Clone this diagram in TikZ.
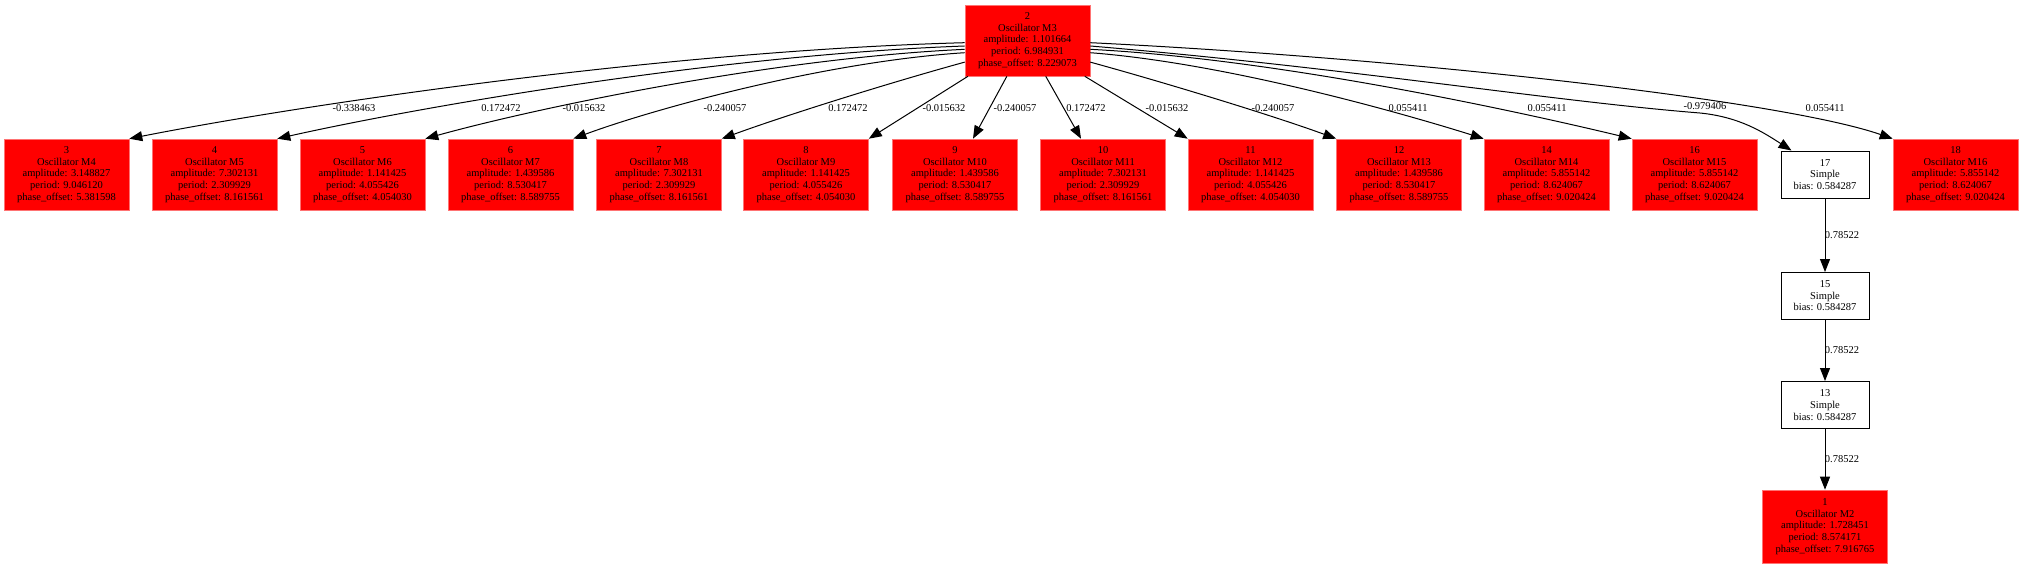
\documentclass[tikz,border=0pt]{standalone}
\usepackage{fontspec}
\setmainfont{Liberation Serif}
\usetikzlibrary{arrows.meta}
\begin{document}
\begin{tikzpicture}[x=1pt,y=-1pt,
  txt/.style={font=\fontsize{10.5}{11.6}\selectfont},
  osc/.style={txt, draw=red!55!white, fill=red, line width=0.6pt, minimum width=125pt, minimum height=71pt, align=center, inner sep=0pt},
  simple/.style={txt, draw=black, fill=white, line width=1pt, minimum width=88pt, minimum height=47pt, align=center, inner sep=0pt},
  conn/.style={draw=black, line width=1pt, -{Triangle[length=13pt,width=10pt]}},
  elabel/.style={txt, inner sep=0pt}
]
\useasboundingbox (0,0) rectangle (2024,568);

% nodes
\node[osc] (n2) at (1027.5,40.5) {2\\Oscillator M3\\amplitude: 1.101664\\period: 6.984931\\phase\_offset: 8.229073};
\node[osc] (n3) at (66.5,174.5) {3\\Oscillator M4\\amplitude: 3.148827\\period: 9.046120\\phase\_offset: 5.381598};
\node[osc] (n4) at (214.5,174.5) {4\\Oscillator M5\\amplitude: 7.302131\\period: 2.309929\\phase\_offset: 8.161561};
\node[osc] (n5) at (362.5,174.5) {5\\Oscillator M6\\amplitude: 1.141425\\period: 4.055426\\phase\_offset: 4.054030};
\node[osc] (n6) at (510.5,174.5) {6\\Oscillator M7\\amplitude: 1.439586\\period: 8.530417\\phase\_offset: 8.589755};
\node[osc] (n7) at (659,174.5) {7\\Oscillator M8\\amplitude: 7.302131\\period: 2.309929\\phase\_offset: 8.161561};
\node[osc] (n8) at (806,174.5) {8\\Oscillator M9\\amplitude: 1.141425\\period: 4.055426\\phase\_offset: 4.054030};
\node[osc] (n9) at (955,174.5) {9\\Oscillator M10\\amplitude: 1.439586\\period: 8.530417\\phase\_offset: 8.589755};
\node[osc] (n10) at (1103,174.5) {10\\Oscillator M11\\amplitude: 7.302131\\period: 2.309929\\phase\_offset: 8.161561};
\node[osc] (n11) at (1250.5,174.5) {11\\Oscillator M12\\amplitude: 1.141425\\period: 4.055426\\phase\_offset: 4.054030};
\node[osc] (n12) at (1399,174.5) {12\\Oscillator M13\\amplitude: 1.439586\\period: 8.530417\\phase\_offset: 8.589755};
\node[osc] (n14) at (1546.5,174.5) {14\\Oscillator M14\\amplitude: 5.855142\\period: 8.624067\\phase\_offset: 9.020424};
\node[osc] (n16) at (1694.5,174.5) {16\\Oscillator M15\\amplitude: 5.855142\\period: 8.624067\\phase\_offset: 9.020424};
\node[simple] (n17) at (1825,174.5) {17\\Simple\\bias: 0.584287};
\node[osc] (n18) at (1955.5,174.5) {18\\Oscillator M16\\amplitude: 5.855142\\period: 8.624067\\phase\_offset: 9.020424};
\node[simple] (n15) at (1825,296) {15\\Simple\\bias: 0.584287};
\node[simple] (n13) at (1825,405) {13\\Simple\\bias: 0.584287};
\node[osc, minimum height=73pt] (n1) at (1825,526.5) {1\\Oscillator M2\\amplitude: 1.728451\\period: 8.574171\\phase\_offset: 7.916765};

\coordinate (k17) at (1700,113);

% edges from node 2
\draw[conn] (n2.182) .. controls +(-301,8) and +(167,-33) .. (n3.north east);
\draw[conn] (n2.185) .. controls +(-248,9) and +(138,-31) .. (n4.north east);
\draw[conn] (n2.188) .. controls +(-194,9) and +(108,-30) .. (n5.north east);
\draw[conn] (n2.191) .. controls +(-141,9) and +(78,-29) .. (n6.north east);
\draw[conn] (n2.199) .. controls +(-80,22) and +(60,-22) .. (n7.north east);
\draw[conn] (n2.211) -- (n8.north east);
\draw[conn] (n2.240) -- ([xshift=18pt]n9.north);
\draw[conn] (n2.297) -- ([xshift=-22pt]n10.north);
\draw[conn] (n2.328) -- (n11.north west);
\draw[conn] (n2.341) .. controls +(80,22) and +(-60,-22) .. (n12.north west);
\draw[conn] (n2.349) .. controls +(142,11) and +(-70,-22) .. (n14.north west);
\draw[conn] (n2.352) .. controls +(195,10) and +(-100,-24) .. (n16.north west);
\draw[conn] (n2.355) .. controls +(260,22) and +(-150,-12) .. (k17)
                     .. controls +(40,4) and +(-28,-18) .. ([xshift=11pt]n17.north west);
\draw[conn] (n2.358) .. controls +(310,15) and +(-113,-39) .. (n18.north west);
\draw[conn] (n17) -- (n15);
\draw[conn] (n15) -- (n13);
\draw[conn] (n13) -- (n1);

% edge labels
\node[elabel] (l3) at (354,108) {-0.338463};
\node[elabel] (l4) at (501,108) {0.172472};
\node[elabel] (l5) at (584,108) {-0.015632};
\node[elabel] (l6) at (725,108) {-0.240057};
\node[elabel] (l7) at (848,108) {0.172472};
\node[elabel] (l8) at (944,108) {-0.015632};
\node[elabel] (l9) at (1015,108) {-0.240057};
\node[elabel] (l10) at (1086,108) {0.172472};
\node[elabel] (l11) at (1167,108) {-0.015632};
\node[elabel] (l12) at (1273,108) {-0.240057};
\node[elabel] (l14) at (1408,108) {0.055411};
\node[elabel] (l16) at (1547,108) {0.055411};
\node[elabel] (l17) at (1705,106) {-0.979406};
\node[elabel] (l18) at (1825,108) {0.055411};
\node[elabel] (l1715) at (1842,235) {0.78522};
\node[elabel] (l1513) at (1842,350) {0.78522};
\node[elabel] (l131) at (1842,459) {0.78522};
\end{tikzpicture}
\end{document}
